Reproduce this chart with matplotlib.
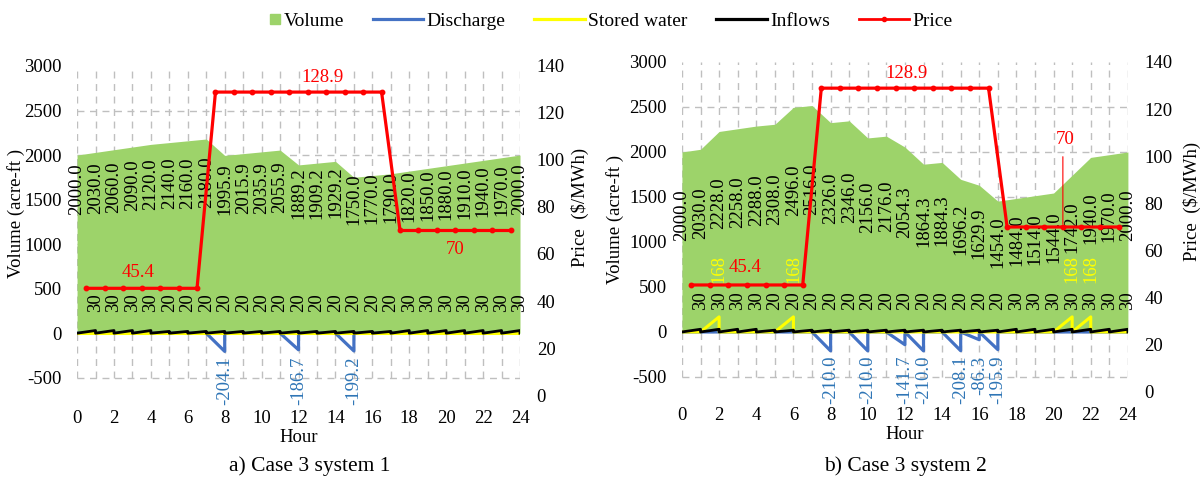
import matplotlib
matplotlib.use('Agg')
import matplotlib.pyplot as plt
from matplotlib.lines import Line2D
from matplotlib.patches import Patch, Rectangle
from matplotlib.legend_handler import HandlerPatch

plt.rcParams['font.family'] = ['Liberation Serif', 'DejaVu Serif']
plt.rcParams['axes.unicode_minus'] = False

# hourly data, hour 0..24 for volume, hour 1..24 for flows
hours = list(range(25))
vol_1 = [2000.0, 2030.0, 2060.0, 2090.0, 2120.0, 2140.0, 2160.0, 2180.0, 1995.9, 2015.9,
         2035.9, 2055.9, 1889.2, 1909.2, 1929.2, 1750.0, 1770.0, 1790.0, 1820.0, 1850.0,
         1880.0, 1910.0, 1940.0, 1970.0, 2000.0]
vol_2 = [2000.0, 2030.0, 2228.0, 2258.0, 2288.0, 2308.0, 2496.0, 2516.0, 2326.0, 2346.0,
         2156.0, 2176.0, 2054.3, 1864.3, 1884.3, 1696.2, 1629.9, 1454.0, 1484.0, 1514.0,
         1544.0, 1742.0, 1940.0, 1970.0, 2000.0]
inflow = [30, 30, 30, 30, 20, 20, 20, 20, 20, 20, 20, 20,
          20, 20, 20, 20, 20, 30, 30, 30, 30, 30, 30, 30]
discharge_1 = [0, 0, 0, 0, 0, 0, 0, -204.1, 0, 0, 0, -186.7,
               0, 0, -199.2, 0, 0, 0, 0, 0, 0, 0, 0, 0]
discharge_2 = [0, 0, 0, 0, 0, 0, 0, -210.0, 0, -210.0, 0, -141.7,
               -210.0, 0, -208.1, -86.3, -195.9, 0, 0, 0, 0, 0, 0, 0]
stored_1 = [0] * 24
stored_2 = [0, 168, 0, 0, 0, 168, 0, 0, 0, 0, 0, 0,
            0, 0, 0, 0, 0, 0, 0, 0, 168, 168, 0, 0]
price = [45.4, 45.4, 45.4, 45.4, 45.4, 45.4, 45.4,
         128.9, 128.9, 128.9, 128.9, 128.9, 128.9, 128.9, 128.9, 128.9, 128.9,
         70, 70, 70, 70, 70, 70, 70]

GREEN = '#9DD36A'
BLUE = '#4472C4'
BLUE_TXT = '#2E75B6'
YELLOW = '#FFFF00'
RED = '#FF0000'
GRID = '#BFBFBF'
FS = 13.5

fig = plt.figure(figsize=(12.04, 4.87), dpi=100)


def sawtooth(vals):
    xs, ys = [0], [0.0]
    for h, v in enumerate(vals, start=1):
        xs += [h, h]
        ys += [v, 0.0]
    return xs, ys


def draw_panel(rect, vol, discharge, stored, vmin, lab_a, lab_b, price_txt, leader, caption, cap_x, ylab_y):
    ax = fig.add_axes(rect)
    ax.set_xlim(0, 24)
    ax.set_ylim(vmin, 3000)
    for s in ax.spines.values():
        s.set_visible(False)
    ax.vlines(hours, -500, 3000, colors=GRID, linestyles=(0, (5, 4)), lw=1, zorder=0)
    ax.hlines(range(-500, 3000, 500), 0, 24, colors=GRID, linestyles=(0, (5, 4)), lw=1, zorder=0)
    ax.fill_between(hours, vol, color=GREEN, lw=0, zorder=1)

    xs, ys = sawtooth(discharge)
    ax.plot(xs, ys, color=BLUE, lw=2.3, zorder=2)
    xs, ys = sawtooth(stored)
    ax.plot(xs, ys, color=YELLOW, lw=2.2, zorder=3)
    xs, ys = sawtooth(inflow)
    ax.plot(xs, ys, color='black', lw=2.0, zorder=4)

    # data labels
    for h, v in zip(hours, vol):
        ax.text(h, lab_a + lab_b * (v - 2000), f'{v:.1f}', rotation=90, ha='center', va='top',
                fontsize=FS, zorder=5)
    for h, v in enumerate(inflow, start=1):
        ax.text(h, 345, f'{v}', rotation=90, ha='center', va='center', fontsize=FS, zorder=5)
    for h, v in enumerate(discharge, start=1):
        if v != 0:
            ax.text(h, -262, f'{v:.1f}', rotation=90, ha='center', va='top', fontsize=FS,
                    color=BLUE_TXT, zorder=5, clip_on=False)
    for h, v in enumerate(stored, start=1):
        if v != 0:
            ax.text(h, 700, f'{v}', rotation=90, ha='center', va='center', fontsize=FS,
                    color=YELLOW, zorder=5)

    ax.set_xticks(range(0, 25, 2))
    ax.set_yticks(range(-500, 3001, 500))
    ax.tick_params(length=0, labelsize=FS, pad=11)
    ax.set_xlabel('Hour', fontsize=FS, labelpad=1)
    ax.set_ylabel('Volume (acre-ft )', fontsize=FS)
    ax.yaxis.set_label_coords(ylab_y[0], ylab_y[1])

    ax2 = ax.twinx()
    ax2.set_ylim(0, 140)
    for s in ax2.spines.values():
        s.set_visible(False)
    ph = [h - 0.5 for h in range(1, 25)]
    ax2.plot(ph, price, color=RED, lw=2.3, marker='o', ms=3.2, zorder=6)
    for txt, x, y in price_txt:
        ax2.text(x, y, txt, color=RED, ha='center', va='center', fontsize=FS)
    if leader:
        ax2.annotate('', xy=leader[0], xytext=leader[1],
                     arrowprops=dict(arrowstyle='-', color=RED, lw=0.8))
    ax2.set_yticks(range(0, 141, 20))
    ax2.tick_params(length=0, labelsize=FS, pad=12)
    ax2.set_ylabel('Price  ($/MWh)', fontsize=FS)
    ax2.yaxis.set_label_coords(ylab_y[2], ylab_y[3])

    fig.text(cap_x, 0.043, caption, ha='center', va='center', fontsize=15.5)


draw_panel([0.0640, 0.1889, 0.3679, 0.6756], vol_1, discharge_1, stored_1, -694, 1906, 0.45,
           [('45.4', 3.3, 52), ('128.9', 13.3, 135), ('70', 20.5, 62)], None,
           'a) Case 3 system 1', 0.257, (-0.117, 0.553, 1.115, 0.571))
draw_panel([0.5664, 0.1951, 0.3704, 0.6776], vol_2, discharge_2, stored_2, -667, 1589, 0.55,
           [('45.4', 3.4, 53), ('128.9', 12.1, 135), ('70', 20.6, 107)], ((20.5, 70), (20.5, 101)),
           'b) Case 3 system 2', 0.752, (-0.130, 0.524, 1.124, 0.576))


def square_patch(legend, orig_handle, xdescent, ydescent, width, height, fontsize):
    s = height * 0.75
    return Rectangle((width - s - xdescent, -ydescent + (height - s) / 2), s, s)


handles = [Patch(color=GREEN),
           Line2D([], [], color=BLUE, lw=2.3),
           Line2D([], [], color=YELLOW, lw=2.3),
           Line2D([], [], color='black', lw=2.3),
           Line2D([], [], color=RED, lw=2, marker='o', ms=3)]
labels = ['Volume', 'Discharge', 'Stored water', 'Inflows', 'Price']
fig.legend(handles, labels, loc='center', bbox_to_anchor=(0.491, 0.957), ncol=5, frameon=False,
           fontsize=14, handlelength=2.6, handletextpad=0.15, columnspacing=1.5,
           handler_map={Patch: HandlerPatch(patch_func=square_patch)})

fig.savefig('out.png', dpi=100)
